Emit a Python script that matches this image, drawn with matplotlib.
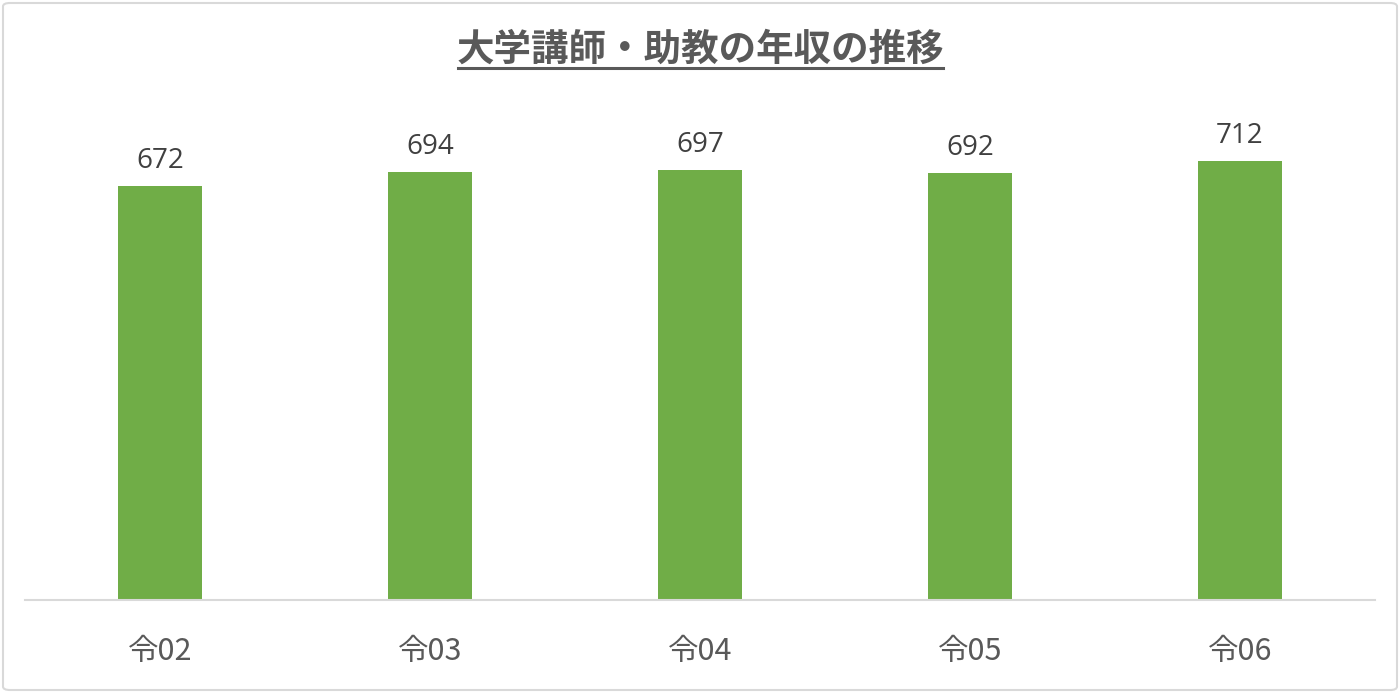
import matplotlib
matplotlib.use("Agg")
import matplotlib.pyplot as plt
from matplotlib.patches import FancyBboxPatch
from matplotlib.lines import Line2D

plt.rcParams['font.family'] = ['Noto Sans CJK JP', 'DejaVu Sans']

categories = ['令02', '令03', '令04', '令05', '令06']
values = [672, 694, 697, 692, 712]
title = '大学講師・助教の年収の推移'

W, H = 1400, 693
fig = plt.figure(figsize=(W / 100, H / 100), dpi=100)
fig.patch.set_facecolor('white')

# border
fig.patches.append(FancyBboxPatch((3 / W, 3 / H), 1 - 6 / W, 1 - 6 / H,
                                  boxstyle="round,pad=0,rounding_size=0.005",
                                  transform=fig.transFigure, fill=False,
                                  edgecolor='#d9d9d9', linewidth=1.5))

ax_left, ax_right = 25 / W, 1375 / W
ax_bottom = (H - 600) / H
ax_top = (H - 106.7) / H
ax = fig.add_axes([ax_left, ax_bottom, ax_right - ax_left, ax_top - ax_bottom])

x = list(range(len(categories)))
bars = ax.bar(x, values, width=0.311, color='#70ad47', zorder=2)
ax.set_xlim(-0.5, len(categories) - 0.5)
ax.set_ylim(0, 800)

for xi, v in zip(x, values):
    ax.annotate(f'{v}', (xi, v), xytext=(0, 8), textcoords='offset points',
                ha='center', va='bottom', fontsize=20, color='#404040',
                family=['Open Sans', 'DejaVu Sans'])

ax.set_xticks(x)
ax.set_xticklabels(categories, fontsize=22, color='#595959')
ax.tick_params(axis='x', length=0, pad=26)
ax.set_yticks([])
for s in ['top', 'left', 'right']:
    ax.spines[s].set_visible(False)
ax.spines['bottom'].set_color('#d9d9d9')
ax.spines['bottom'].set_linewidth(1.5)
ax.set_facecolor('none')

fig.text(0.5, (H - 49) / H, title, ha='center', va='center', fontsize=27,
         fontweight='bold', color='#595959')
fig.lines.append(Line2D([458 / W, 943 / W], [(H - 68) / H, (H - 68) / H],
                        transform=fig.transFigure, color='#595959', linewidth=2.2))

fig.savefig('out.png', dpi=100, facecolor='white')
